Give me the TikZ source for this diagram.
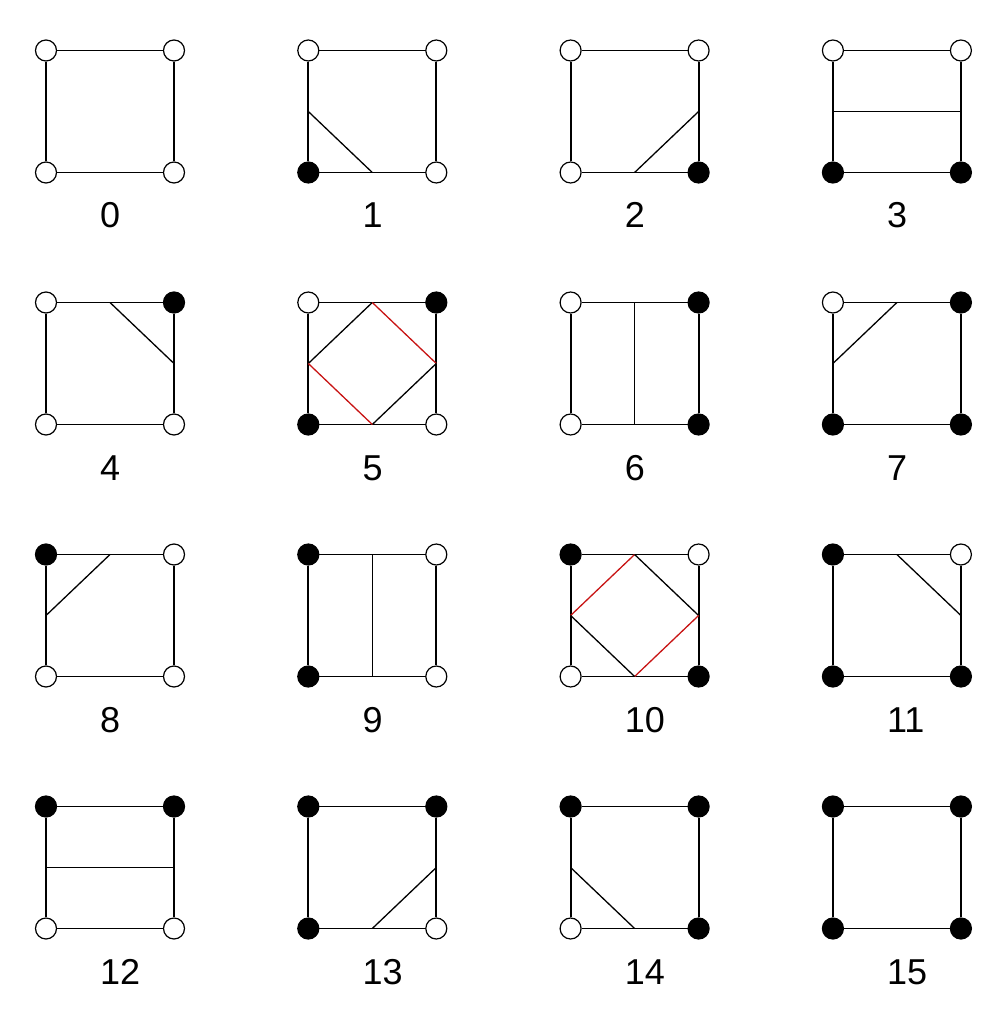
\documentclass[tikz,border=0pt]{standalone}
\usepackage{fontspec}
\setmainfont{Liberation Sans}
\definecolor{isored}{RGB}{200,20,20}

\begin{document}
\begin{tikzpicture}[x=1pt, y=-1pt,
    vtx/.style={circle, draw, line width=1.2pt, minimum size=21pt, inner sep=0pt},
    edge/.style={line width=1.8pt},
    iso/.style={line width=1.3pt},
    lbl/.style={anchor=base west, inner sep=0pt, font=\fontsize{36}{40}\selectfont}
]
    \useasboundingbox (0,0) rectangle (1005,1032);
    % one cell per case: corner bits BL=1, BR=2, TR=4, TL=8
    \foreach \n/\segs in {0/{}, 1/{L/B/black}, 2/{B/R/black}, 3/{L/R/black},
        4/{T/R/black}, 5/{L/T/black,T/R/isored,R/B/black,B/L/isored}, 6/{T/B/black}, 7/{L/T/black},
        8/{L/T/black}, 9/{T/B/black}, 10/{L/T/isored,T/R/black,R/B/isored,B/L/black}, 11/{T/R/black},
        12/{L/R/black}, 13/{B/R/black}, 14/{L/B/black}, 15/{}}{
        \pgfmathsetmacro\x{46+262.3*mod(\n,4)}
        \pgfmathsetmacro\y{50.5+252*div(\n,4)}
        \pgfmathtruncatemacro\bbl{mod(\n,2)}
        \pgfmathtruncatemacro\bbr{mod(div(\n,2),2)}
        \pgfmathtruncatemacro\btr{mod(div(\n,4),2)}
        \pgfmathtruncatemacro\btl{div(\n,8)}
        \ifnum\bbl=1 \def\cbl{black}\else\def\cbl{white}\fi
        \ifnum\bbr=1 \def\cbr{black}\else\def\cbr{white}\fi
        \ifnum\btr=1 \def\ctr{black}\else\def\ctr{white}\fi
        \ifnum\btl=1 \def\ctl{black}\else\def\ctl{white}\fi
        \node[vtx, fill=\ctl] (tl\n) at (\x,\y) {};
        \node[vtx, fill=\ctr] (tr\n) at (\x+128,\y) {};
        \node[vtx, fill=\cbr] (br\n) at (\x+128,\y+122) {};
        \node[vtx, fill=\cbl] (bl\n) at (\x,\y+122) {};
        \draw[edge] (tl\n) -- (tr\n);
        \draw[edge] (tr\n) -- (br\n);
        \draw[edge] (br\n) -- (bl\n);
        \draw[edge] (bl\n) -- (tl\n);
        \coordinate (L\n) at (\x,\y+61);
        \coordinate (R\n) at (\x+128,\y+61);
        \coordinate (T\n) at (\x+64,\y);
        \coordinate (B\n) at (\x+64,\y+122);
        \ifx\segs\empty\else
            \foreach \p/\q/\c in \segs {\draw[iso, \c] (\p\n) -- (\q\n);}
        \fi
        \node[lbl] (lab\n) at (\x+54,\y+177.5) {\n};
    }
\end{tikzpicture}
\end{document}
